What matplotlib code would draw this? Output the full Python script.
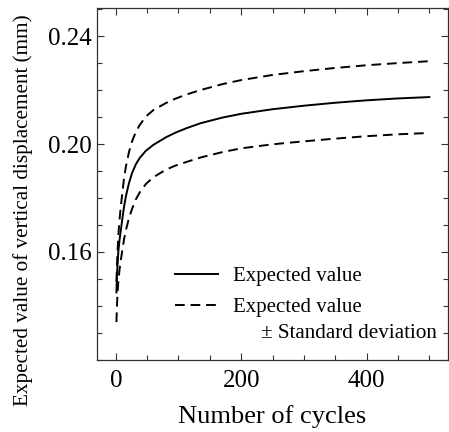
import matplotlib
matplotlib.use('Agg')
import matplotlib.pyplot as plt
from matplotlib.lines import Line2D
from matplotlib.ticker import MultipleLocator

plt.rcParams['font.family'] = ['Liberation Serif', 'DejaVu Serif']

# values
cycles = [1, 2, 4, 6, 8, 10, 13, 16, 21, 26, 32, 38, 48, 60, 80, 95, 112,
          135, 170, 200, 250, 300, 350, 400, 450, 500]
expected = [0.145, 0.152, 0.160, 0.1645, 0.168, 0.1715, 0.1765, 0.1805,
            0.1855, 0.1893, 0.1925, 0.1948, 0.1975, 0.1997, 0.2025, 0.2042,
            0.2058, 0.2077, 0.2098, 0.2112, 0.2129, 0.2142, 0.2153, 0.2162,
            0.2169, 0.2174]
upper = [0.149, 0.156, 0.166, 0.172, 0.1768, 0.181, 0.1870, 0.1915, 0.1970,
         0.2010, 0.2045, 0.2070, 0.2102, 0.2126, 0.2152, 0.2168, 0.2183,
         0.2200, 0.2222, 0.2237, 0.2256, 0.2270, 0.2282, 0.2292, 0.2300,
         0.2307]
lower = [0.134, 0.141, 0.149, 0.1535, 0.157, 0.160, 0.1645, 0.168, 0.1725,
         0.176, 0.1795, 0.182, 0.1852, 0.1877, 0.1905, 0.1920, 0.1933,
         0.1950, 0.1970, 0.1984, 0.1999, 0.2010, 0.2020, 0.2029, 0.2036,
         0.2041]

fig = plt.figure(figsize=(4.49, 4.32), dpi=100)
ax = fig.add_axes([0.216, 0.167, 0.782, 0.815])

dash = (5, 3)
ax.plot(cycles, expected, color='black', lw=1.4)
ax.plot(cycles, upper, color='black', lw=1.4, ls=(0, dash))
ax.plot(cycles, lower, color='black', lw=1.4, ls=(0, dash))

ax.set_xlim(-30, 530)
ax.set_ylim(0.12, 0.2505)
ax.set_xticks([0, 200, 400])
ax.set_yticks([0.16, 0.20, 0.24])
ax.set_yticklabels(['0.16', '0.20', '0.24'])
ax.xaxis.set_minor_locator(MultipleLocator(50))
ax.yaxis.set_minor_locator(MultipleLocator(0.01))
ax.tick_params(which='both', direction='in', top=True, right=True,
               labelsize=18, color='#333333', width=0.8)
ax.tick_params(which='major', length=5)
ax.tick_params(which='minor', length=3.5)
ax.tick_params(axis='x', pad=7)
for s in ax.spines.values():
    s.set_linewidth(0.9)
    s.set_color('#333333')

ax.set_xlabel('Number of cycles', fontsize=19, labelpad=10)
fig.text(23.5 / 449, 0.514, 'Expected value of vertical displacement (mm)',
         rotation=90, ha='center', va='center', fontsize=15.2)

handles = [Line2D([], [], color='black', lw=1.4),
           Line2D([], [], color='black', lw=1.4, ls=(0, dash))]
ax.legend(handles, ['Expected value', 'Expected value'], loc='upper left',
          bbox_to_anchor=(0.222, 0.265), frameon=False, fontsize=15,
          handlelength=2.05, handletextpad=0.72, labelspacing=0.55,
          borderaxespad=0, borderpad=0)
ax.text(0.969, 0.076, '\u00b1 Standard deviation', transform=ax.transAxes,
        ha='right', va='center', fontsize=15.2)

fig.savefig('out.png', dpi=100)
